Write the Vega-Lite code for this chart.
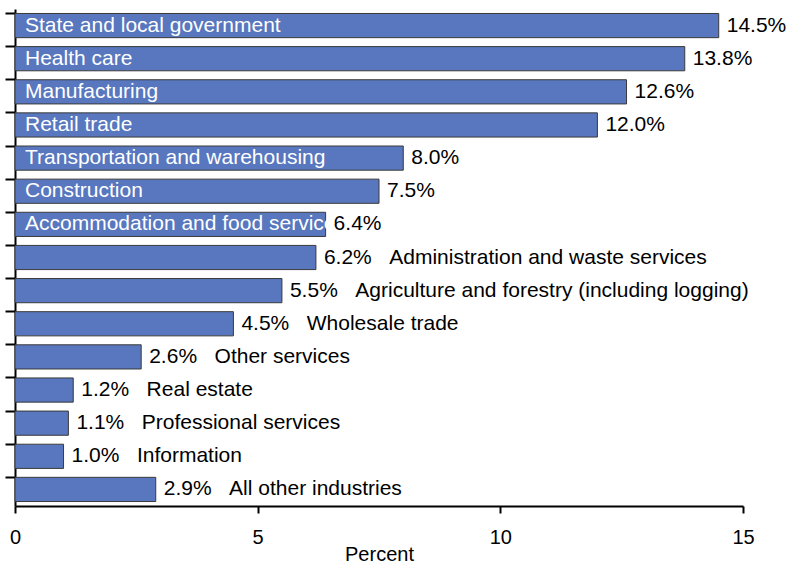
{
  "$schema": "https://vega.github.io/schema/vega-lite/v6.json",
  "autosize": "none",
  "padding": {"left": 15, "top": 9, "right": 47, "bottom": 58},
  "width": 728,
  "height": 497,
  "config": {
    "font": "Liberation Sans",
    "view": {"stroke": null}
  },
  "data": {
    "values": [
      {"industry": "State and local government", "pct": 14.5},
      {"industry": "Health care", "pct": 13.8},
      {"industry": "Manufacturing", "pct": 12.6},
      {"industry": "Retail trade", "pct": 12.0},
      {"industry": "Transportation and warehousing", "pct": 8.0},
      {"industry": "Construction", "pct": 7.5},
      {"industry": "Accommodation and food service", "pct": 6.4},
      {"industry": "Administration and waste services", "pct": 6.2},
      {"industry": "Agriculture and forestry (including logging)", "pct": 5.5},
      {"industry": "Wholesale trade", "pct": 4.5},
      {"industry": "Other services", "pct": 2.6},
      {"industry": "Real estate", "pct": 1.2},
      {"industry": "Professional services", "pct": 1.1},
      {"industry": "Information", "pct": 1.0},
      {"industry": "All other industries", "pct": 2.9}
    ]
  },
  "encoding": {
    "y": {
      "field": "industry",
      "type": "nominal",
      "sort": null,
      "title": null,
      "scale": {"paddingInner": 0.27, "paddingOuter": 0.135},
      "axis": {
        "labels": false,
        "bandPosition": 0,
        "tickSize": 10,
        "tickWidth": 2,
        "tickColor": "black",
        "domainColor": "black",
        "domainWidth": 2
      }
    }
  },
  "layer": [
    {
      "mark": {"type": "bar", "fill": "#5877BE", "stroke": "#3a3a3a", "strokeWidth": 1},
      "encoding": {
        "x": {
          "field": "pct",
          "type": "quantitative",
          "title": "Percent",
          "scale": {"domain": [0, 15], "nice": false},
          "axis": {
            "values": [0, 5, 10, 15],
            "grid": false,
            "tickSize": 7,
            "tickWidth": 2,
            "tickColor": "black",
            "domainColor": "black",
            "domainWidth": 2,
            "labelFlush": false,
            "labelFontSize": 20,
            "labelColor": "black",
            "labelPadding": 14,
            "titleFontSize": 20,
            "titleFontWeight": "normal",
            "titleColor": "black",
            "titlePadding": -3
          }
        }
      }
    },
    {
      "transform": [
        {"calculate": "format(datum.pct, '.1f') + '%' + (datum.pct >= 6.4 ? '' : '\u00a0\u00a0\u00a0' + datum.industry)", "as": "outer"}
      ],
      "mark": {"type": "text", "align": "left", "baseline": "middle", "dx": 8, "fontSize": 21, "color": "black"},
      "encoding": {
        "x": {"field": "pct", "type": "quantitative"},
        "text": {"field": "outer"}
      }
    },
    {
      "transform": [{"filter": "datum.pct >= 6.4"}],
      "mark": {"type": "text", "align": "left", "baseline": "middle", "dx": 10, "fontSize": 21, "color": "white"},
      "encoding": {
        "x": {"datum": 0, "type": "quantitative"},
        "text": {"field": "industry"}
      }
    }
  ]
}
